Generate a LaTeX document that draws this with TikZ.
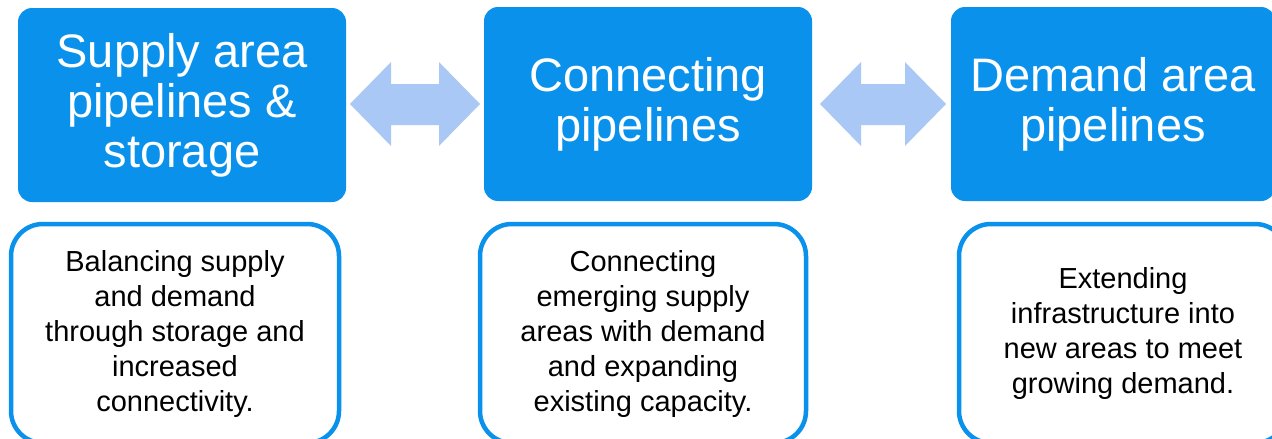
\documentclass[tikz,border=0pt]{standalone}
\usepackage{fontspec}
\setmainfont{Liberation Sans}
\definecolor{boxblue}{HTML}{0A91EB}
\definecolor{arrowblue}{HTML}{AAC8F5}
\begin{document}
\begin{tikzpicture}[x=1pt,y=-1pt,
  topbox/.style={fill=boxblue, rounded corners=14pt, minimum width=328pt, minimum height=194pt,
    text=white, font=\fontsize{47}{50}\selectfont, align=center, inner sep=0pt},
  descbox/.style={draw=boxblue, line width=4.5pt, fill=white, rounded corners=32pt,
    minimum width=328pt, minimum height=219pt, font=\fontsize{29}{35}\selectfont,
    align=center, inner sep=0pt},
  blockarrow/.style={fill=arrowblue}]
\useasboundingbox (0,0) rectangle (1272,439);
\clip (0,0) rectangle (1272,439);
\fill[white] (0,0) rectangle (1272,439);
% top boxes
\node[topbox] (t1) at (182,105) {Supply area\\pipelines \&\\storage};
\node[topbox] (t2) at (648,104) {Connecting\\pipelines};
\node[topbox, minimum width=324pt] (t3) at (1113,104) {Demand area\\pipelines};
% description boxes
\node[descbox] (d1) at (175,333.5) {Balancing supply\\and demand\\through storage and\\increased\\connectivity.};
\node[descbox, minimum width=326pt] (d2) at (643,333.5) {Connecting\\emerging supply\\areas with demand\\and expanding\\existing capacity.};
\node[descbox] (d3) at (1123,333.5) {Extending\\infrastructure into\\new areas to meet\\growing demand.};
% double block arrows
\fill[blockarrow] (350,104) -- (391,62) -- (391,84) -- (439,84) -- (439,62) -- (480,104)
  -- (439,146) -- (439,125) -- (391,125) -- (391,146) -- cycle;
\fill[blockarrow] (820,104) -- (861,62) -- (861,84) -- (905,84) -- (905,62) -- (946,104)
  -- (905,146) -- (905,125) -- (861,125) -- (861,146) -- cycle;
\end{tikzpicture}
\end{document}
